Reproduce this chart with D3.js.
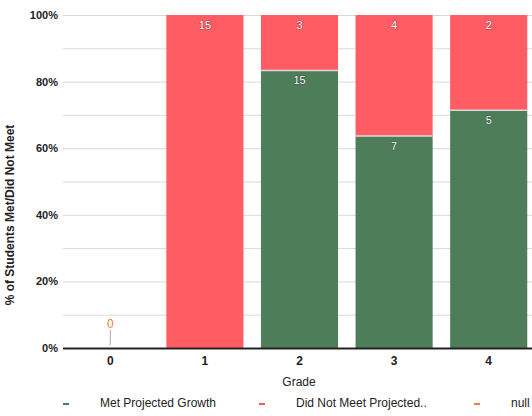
<!DOCTYPE html>
<html>
<head>
<meta charset="utf-8">
<script src="https://cdn.jsdelivr.net/npm/d3@7"></script>
<style>
  html, body { margin: 0; padding: 0; background: #ffffff; }
  svg { display: block; font-family: "Liberation Sans", Arial, sans-serif; }
</style>
</head>
<body>
<svg id="chart" width="532" height="416"></svg>
<script>
// Grades and student counts per outcome
const grades = ["0", "1", "2", "3", "4"];
const metGrowth = [0, 0, 15, 7, 5];
const didNotMeet = [0, 15, 3, 4, 2];
const nullSeries = [0, null, null, null, null];
const yTickValues = [0, 20, 40, 60, 80, 100];
const yGridValues = [10, 20, 30, 40, 50, 60, 70, 80, 90, 100];
const seriesNames = ["Met Projected Growth", "Did Not Meet Projected..", "null"];
const seriesColors = ["#4e7d5a", "#ff5c64", "#f07a3e"];

const svg = d3.select("#chart");
const margin = { left: 63, right: 536, top: 15, bottom: 348 };

const x = d3.scaleBand()
  .domain(grades)
  .range([margin.left, margin.right])
  .paddingInner(0.185)
  .paddingOuter(0.0925);

const y = d3.scaleLinear().domain([0, 100]).range([margin.bottom, margin.top]);

// Gridlines
svg.append("g")
  .selectAll("line")
  .data(yGridValues)
  .join("line")
  .attr("x1", margin.left)
  .attr("x2", 532)
  .attr("y1", d => y(d) + 0.5)
  .attr("y2", d => y(d) + 0.5)
  .attr("stroke", "#d9d9d9")
  .attr("stroke-width", 1);

// Percent-stacked rows
const rows = grades.map((g, i) => {
  const total = metGrowth[i] + didNotMeet[i];
  const metPct = total ? metGrowth[i] / total * 100 : 0;
  const notPct = total ? didNotMeet[i] / total * 100 : 0;
  return { g, met: metGrowth[i], not: didNotMeet[i], metPct, notPct, total };
});

const bars = svg.append("g");

// Met (bottom) segments
bars.selectAll("rect.met")
  .data(rows.filter(r => r.met > 0))
  .join("rect")
  .attr("class", "met")
  .attr("x", d => x(d.g))
  .attr("width", x.bandwidth())
  .attr("y", d => y(d.metPct))
  .attr("height", d => y(0) - y(d.metPct))
  .attr("fill", seriesColors[0]);

// Did-not-meet (top) segments
bars.selectAll("rect.not")
  .data(rows.filter(r => r.not > 0))
  .join("rect")
  .attr("class", "not")
  .attr("x", d => x(d.g))
  .attr("width", x.bandwidth())
  .attr("y", d => y(d.metPct + d.notPct))
  .attr("height", d => y(d.metPct) - y(d.metPct + d.notPct))
  .attr("fill", seriesColors[1]);

// Thin separator between the stacked segments
bars.selectAll("line.sep")
  .data(rows.filter(r => r.met > 0 && r.not > 0))
  .join("line")
  .attr("x1", d => x(d.g))
  .attr("x2", d => x(d.g) + x.bandwidth())
  .attr("y1", d => y(d.metPct))
  .attr("y2", d => y(d.metPct))
  .attr("stroke", "#d8dcd8")
  .attr("stroke-width", 1.5);

// Data labels
const labelStyle = sel => sel
  .attr("text-anchor", "middle")
  .attr("dominant-baseline", "middle")
  .attr("font-size", 11)
  .attr("fill", "#ffffff")
  .attr("stroke", "rgba(0,0,0,0.35)")
  .attr("stroke-width", 1.2)
  .attr("paint-order", "stroke");

svg.append("g").selectAll("text")
  .data(rows.filter(r => r.not > 0))
  .join("text")
  .attr("x", d => x(d.g) + x.bandwidth() / 2)
  .attr("y", d => y(d.metPct + d.notPct) + 11)
  .text(d => d.not)
  .call(labelStyle);

svg.append("g").selectAll("text")
  .data(rows.filter(r => r.met > 0))
  .join("text")
  .attr("x", d => x(d.g) + x.bandwidth() / 2)
  .attr("y", d => y(d.metPct) + 11)
  .text(d => d.met)
  .call(labelStyle);

// Null series: zero-height point with its label
const nullRows = grades.map((g, i) => ({ g, v: nullSeries[i] })).filter(d => d.v !== null);
const nullG = svg.append("g");
nullG.selectAll("line")
  .data(nullRows)
  .join("line")
  .attr("x1", d => x(d.g) + x.bandwidth() / 2)
  .attr("x2", d => x(d.g) + x.bandwidth() / 2)
  .attr("y1", d => y(d.v) - 18)
  .attr("y2", d => y(d.v) - 3)
  .attr("stroke", "#a8a8a8")
  .attr("stroke-width", 1);
nullG.selectAll("text")
  .data(nullRows)
  .join("text")
  .attr("x", d => x(d.g) + x.bandwidth() / 2)
  .attr("y", d => y(d.v) - 23)
  .attr("text-anchor", "middle")
  .attr("dominant-baseline", "middle")
  .attr("font-size", 12)
  .attr("fill", seriesColors[2])
  .text(d => d.v);

// X axis baseline and category labels
svg.append("line")
  .attr("x1", margin.left)
  .attr("x2", 532)
  .attr("y1", y(0) + 0.5)
  .attr("y2", y(0) + 0.5)
  .attr("stroke", "#222")
  .attr("stroke-width", 2);

const xAxis = svg.append("g")
  .attr("transform", `translate(0,${y(0) + 1})`)
  .call(d3.axisBottom(x).tickSize(0).tickPadding(7));
xAxis.select(".domain").remove();
xAxis.selectAll("text")
  .attr("font-size", 12)
  .attr("font-weight", "bold")
  .attr("fill", "#222")
  .attr("font-family", "Liberation Sans, Arial, sans-serif");

svg.append("text")
  .attr("x", 299)
  .attr("y", 386)
  .attr("text-anchor", "middle")
  .attr("font-size", 12)
  .attr("fill", "#222")
  .text("Grade");

// Y axis labels
const yAxis = svg.append("g")
  .attr("transform", `translate(${margin.left},0)`)
  .call(d3.axisLeft(y).tickValues(yTickValues).tickSize(0).tickPadding(5).tickFormat(d => d + "%"));
yAxis.select(".domain").remove();
yAxis.selectAll("text")
  .attr("font-size", 11)
  .attr("font-weight", "bold")
  .attr("fill", "#222")
  .attr("font-family", "Liberation Sans, Arial, sans-serif");

svg.append("text")
  .attr("transform", "translate(14,215) rotate(-90)")
  .attr("text-anchor", "middle")
  .attr("font-size", 12)
  .attr("font-weight", "bold")
  .attr("fill", "#222")
  .text("% of Students Met/Did Not Meet");

// Legend
const legendX = [66, 262, 477];
const legend = svg.append("g").selectAll("g")
  .data(seriesNames)
  .join("g")
  .attr("transform", (d, i) => `translate(${legendX[i]},404)`);
legend.append("line")
  .attr("x1", -3).attr("x2", 3)
  .attr("y1", 0).attr("y2", 0)
  .attr("stroke", (d, i) => seriesColors[i])
  .attr("stroke-width", 2);
legend.append("text")
  .attr("x", 34)
  .attr("y", 0)
  .attr("dominant-baseline", "middle")
  .attr("font-size", 12)
  .attr("fill", "#222")
  .text(d => d);
</script>
</body>
</html>
